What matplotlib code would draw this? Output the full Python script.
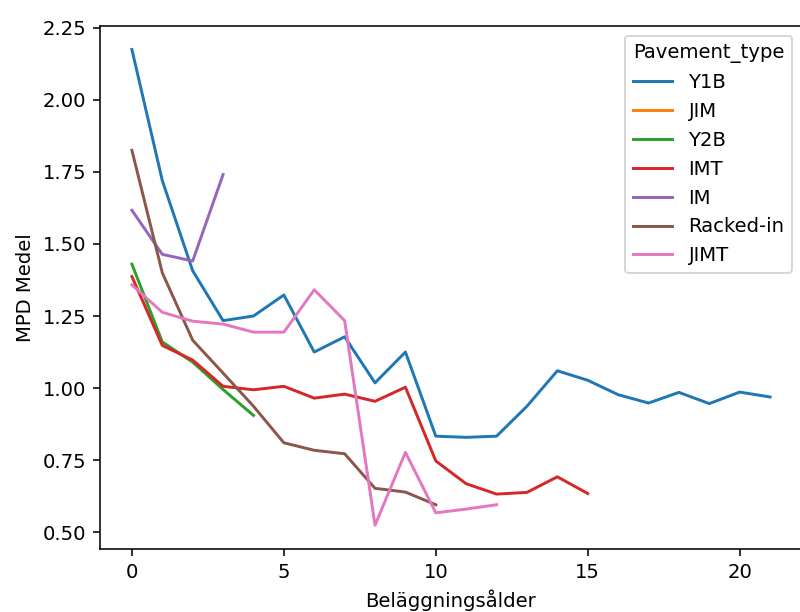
import matplotlib
matplotlib.use("Agg")
import matplotlib.pyplot as plt

# Data
y1b_x = list(range(0, 22))
y1b_y = [2.175, 1.72, 1.407, 1.234, 1.25, 1.323, 1.125, 1.178, 1.018, 1.125, 0.833,
         0.829, 0.833, 0.937, 1.06, 1.027, 0.977, 0.948, 0.985, 0.946, 0.986, 0.969]

jim_x = [0]
jim_y = [1.38]

y2b_x = [0, 1, 2, 3, 4]
y2b_y = [1.43, 1.16, 1.09, 0.995, 0.905]

imt_x = list(range(0, 16))
imt_y = [1.387, 1.148, 1.097, 1.006, 0.994, 1.006, 0.965, 0.979, 0.954, 1.003,
         0.747, 0.668, 0.632, 0.638, 0.692, 0.634]

im_x = [0, 1, 2, 3]
im_y = [1.617, 1.464, 1.441, 1.741]

racked_x = list(range(0, 11))
racked_y = [1.825, 1.40, 1.166, 1.052, 0.937, 0.81, 0.784, 0.772, 0.652, 0.639, 0.595]

jimt_x = list(range(0, 13))
jimt_y = [1.358, 1.263, 1.232, 1.222, 1.194, 1.194, 1.341, 1.234, 0.524, 0.777,
          0.567, 0.58, 0.595]

series = [
    ("Y1B", y1b_x, y1b_y, "#1f77b4"),
    ("JIM", jim_x, jim_y, "#ff7f0e"),
    ("Y2B", y2b_x, y2b_y, "#2ca02c"),
    ("IMT", imt_x, imt_y, "#d62728"),
    ("IM", im_x, im_y, "#9467bd"),
    ("Racked-in", racked_x, racked_y, "#8c564b"),
    ("JIMT", jimt_x, jimt_y, "#e377c2"),
]

DPI = 141.6
fig = plt.figure(figsize=(801 / DPI, 612 / DPI), dpi=DPI)
ax = fig.add_axes([100 / 801, (612 - 549) / 612, 702 / 801, (549 - 25.7) / 612])

for name, xs, ys, c in series:
    ax.plot(xs, ys, color=c, lw=1.5, label=name)

ax.set_xlabel("Beläggningsålder")
ax.set_ylabel("MPD Medel")
ax.set_yticks([0.5, 0.75, 1.0, 1.25, 1.5, 1.75, 2.0, 2.25])
ax.set_xticks([0, 5, 10, 15, 20])
ax.legend(title="Pavement_type", loc="upper right")

fig.savefig("out.png", dpi=DPI)
